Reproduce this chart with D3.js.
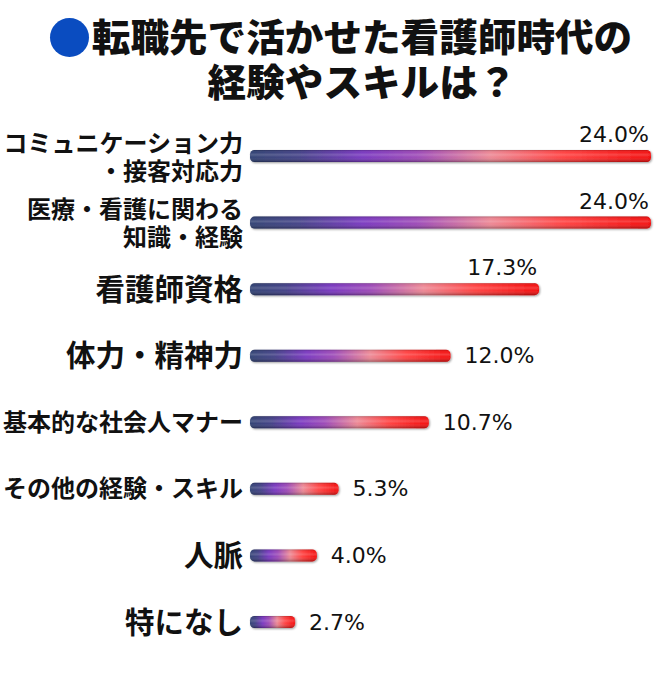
<!DOCTYPE html>
<html><head><meta charset="utf-8">
<script src="https://cdn.jsdelivr.net/npm/d3@7"></script>
<style>html,body{margin:0;padding:0;background:#fff;}svg{display:block;}</style>
</head><body>
<script>
const titleLines = ["転職先で活かせた看護師時代の", "経験やスキルは？"];
const categories = [
  ["コミュニケーション力", "・接客対応力"],
  ["医療・看護に関わる", "知識・経験"],
  ["看護師資格"],
  ["体力・精神力"],
  ["基本的な社会人マナー"],
  ["その他の経験・スキル"],
  ["人脈"],
  ["特になし"]
];
const values = [24.0, 24.0, 17.3, 12.0, 10.7, 5.3, 4.0, 2.7];
const valueLabels = ["24.0%", "24.0%", "17.3%", "12.0%", "10.7%", "5.3%", "4.0%", "2.7%"];

const W = 670, H = 680;
const svg = d3.select("body").append("svg").attr("width", W).attr("height", H);
const defs = svg.append("defs");

const hg = defs.append("linearGradient").attr("id", "hgrad").attr("x1", 0).attr("x2", 1).attr("y1", 0).attr("y2", 0);
[[0, "#2a3b6e"], [0.12, "#3c3a82"], [0.28, "#7430bd"], [0.42, "#9a44b4"], [0.6, "#ec8390"], [0.78, "#ff3b3b"], [1, "#f20505"]]
  .forEach(([o, c]) => hg.append("stop").attr("offset", o).attr("stop-color", c));
const vg = defs.append("linearGradient").attr("id", "vgrad").attr("x1", 0).attr("x2", 0).attr("y1", 0).attr("y2", 1);
[[0, "#000", 0.22], [0.2, "#fff", 0.05], [0.4, "#fff", 0.2], [0.6, "#fff", 0.05], [1, "#000", 0.32]]
  .forEach(([o, c, a]) => vg.append("stop").attr("offset", o).attr("stop-color", c).attr("stop-opacity", a));
const sh = defs.append("filter").attr("id", "shadow").attr("x", "-5%").attr("y", "-50%").attr("width", "110%").attr("height", "200%");
sh.append("feGaussianBlur").attr("in", "SourceAlpha").attr("stdDeviation", 1.2).attr("result", "b");
sh.append("feOffset").attr("in", "b").attr("dx", 0.5).attr("dy", 1).attr("result", "o");
sh.append("feComponentTransfer").attr("in", "o").attr("result", "s").append("feFuncA").attr("type", "linear").attr("slope", 0.4);
const fm = sh.append("feMerge");
fm.append("feMergeNode").attr("in", "s");
fm.append("feMergeNode").attr("in", "SourceGraphic");

// Title
const tg = svg.append("g");
tg.append("circle").attr("cx", 69.5).attr("cy", 37.5).attr("r", 19.5).attr("fill", "#0a4cc0");
tg.selectAll("text.title").data(titleLines).join("text")
  .attr("class", "title")
  .attr("x", 362).attr("y", (d, i) => 50.5 + i * 45)
  .attr("text-anchor", "middle")
  .attr("font-family", "'Noto Sans CJK JP', sans-serif")
  .attr("font-weight", 900).attr("font-size", 37.5)
  .attr("textLength", d => d.length * 38.6).attr("lengthAdjust", "spacingAndGlyphs")
  .attr("fill", "#111")
  .text(d => d);

const x = d3.scaleLinear().domain([0, 24]).range([250, 651]);
const y = d3.scalePoint().domain(d3.range(values.length)).range([156, 622]);
const barH = 12;

const rows = svg.append("g").selectAll("g.row").data(values).join("g").attr("class", "row");

rows.append("rect")
  .attr("x", x(0)).attr("y", (d, i) => y(i) - barH / 2)
  .attr("width", d => x(d) - x(0)).attr("height", barH)
  .attr("rx", 4.5).attr("fill", "url(#hgrad)").attr("filter", "url(#shadow)");
rows.append("rect")
  .attr("x", x(0)).attr("y", (d, i) => y(i) - barH / 2)
  .attr("width", d => x(d) - x(0)).attr("height", barH)
  .attr("rx", 4.5).attr("fill", "url(#vgrad)");

// value labels
rows.append("text")
  .attr("font-family", "'DejaVu Sans', Verdana, sans-serif")
  .attr("font-size", 22).attr("fill", "#111")
  .attr("x", d => d >= 15 ? x(d) - 2 : x(d) + 14)
  .attr("y", (d, i) => d >= 15 ? y(i) - barH / 2 - 8 : y(i) + 7.5)
  .attr("text-anchor", d => d >= 15 ? "end" : "start")
  .text((d, i) => valueLabels[i]);

// category labels
rows.each(function (d, i) {
  const lines = categories[i];
  const big = lines.length === 1 && lines[0].length <= 6;
  const fs = big ? 29.5 : 24;
  const g = d3.select(this);
  const offs = lines.length === 1 ? [0] : [-13, 15];
  lines.forEach((t, j) => {
    g.append("text")
      .attr("x", 243).attr("y", y(i) + offs[j] + fs * 0.36)
      .attr("text-anchor", "end")
      .attr("font-family", "'Noto Sans CJK JP', sans-serif")
      .attr("font-weight", 700).attr("font-size", fs)
      .attr("fill", "#111")
      .text(t);
  });
});
</script>
</body></html>
